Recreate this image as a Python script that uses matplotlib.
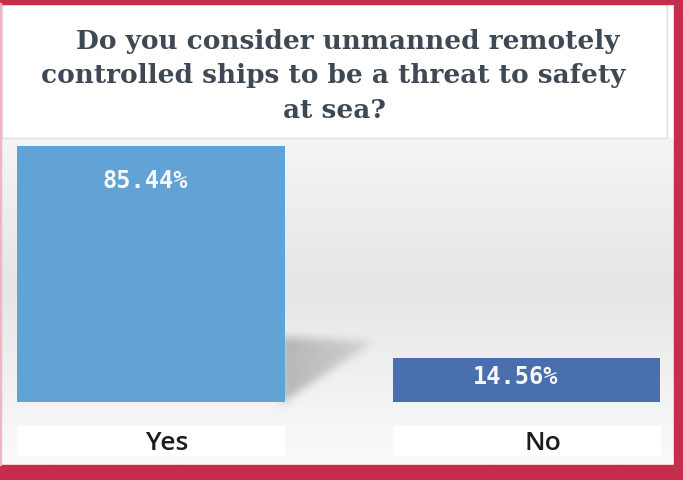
import numpy as np
import matplotlib
matplotlib.use("Agg")
import matplotlib.pyplot as plt
from matplotlib.patches import Rectangle
from matplotlib.colors import LinearSegmentedColormap

# ---- data ----
categories = ["Yes", "No"]
values = [85.44, 14.56]
value_labels = ["85.44%", "14.56%"]
title_lines = ["Do you consider unmanned remotely",
               "controlled ships to be a threat to safety",
               "at sea?"]
bar_colors = ["#62a3d6", "#4a6fae"]

W, H = 683, 481
fig = plt.figure(figsize=(W / 100, H / 100), dpi=100)
fig.patch.set_facecolor("white")

# ---- decoration overlay in pixel coordinates ----
deco = fig.add_axes([0, 0, 1, 1])
deco.set_xlim(0, W)
deco.set_ylim(H, 0)
deco.axis("off")

grad_cmap = LinearSegmentedColormap.from_list(
    "bg", [(0.0, "#f4f5f6"), (0.45, "#e5e6e8"), (0.80, "#f3f3f3"), (1.0, "#fbfbfb")])
g = np.linspace(0, 1, 256).reshape(-1, 1)
deco.imshow(g, cmap=grad_cmap, extent=[2, 674, 466, 139], aspect="auto", zorder=0)

deco.add_patch(Rectangle((2, 5), 665, 134, facecolor="white", edgecolor="#ecd9dd",
                         linewidth=1.0, zorder=1))
crimson = "#c42d4b"
deco.add_patch(Rectangle((0, 0), W, 4.5, color=crimson, zorder=5))
deco.add_patch(Rectangle((674, 0), 9, H, color=crimson, zorder=5))
deco.add_patch(Rectangle((0, 466), W, 15, color=crimson, zorder=5))
deco.add_patch(Rectangle((0, 4), 1.2, 462, color="#e8b9c3", zorder=5))

for x0 in (17, 393):
    deco.add_patch(Rectangle((x0, 427), 268, 30, facecolor="white", edgecolor="none", zorder=1))

title_y = [41, 76, 111]
title_x = [348, 333, 334]
for t, x, y in zip(title_lines, title_x, title_y):
    deco.text(x, y, t, ha="center", va="center", fontsize=19, fontweight="bold",
              family="DejaVu Serif", color="#3f4855", zorder=6)

# ---- bar axes ----
ax_left, ax_right, ax_top, ax_bottom = 2, 673, 140, 403
ax = fig.add_axes([ax_left / W, (H - ax_bottom) / H,
                   (ax_right - ax_left) / W, (ax_bottom - ax_top) / H])
ax.patch.set_alpha(0)
px_per_unit = 375.5
x0 = -(151 - ax_left) / px_per_unit
ax.set_xlim(x0, x0 + (ax_right - ax_left) / px_per_unit)
ax.set_ylim(0, (ax_bottom - ax_top) / 3.0)
for s in ax.spines.values():
    s.set_visible(False)
ax.set_xticks([])
ax.set_yticks([])

xpos = np.arange(len(categories))
bw = 0.713
bars = ax.bar(xpos, values, width=bw, color=bar_colors, zorder=2)

# ---- blurred shadow image, geometry derived from the first bar ----
fig.canvas.draw()
def to_px(x, y):
    dx, dy = ax.transData.transform((x, y))
    return dx, H - dy

bx_r = bars[0].get_x() + bars[0].get_width()
px_r, py_base = to_px(bx_r, 0)
_, py_top = to_px(bx_r, values[0])
bar_h = py_base - py_top
tri = np.array([[px_r - 4, py_base - 0.255 * bar_h],
                [px_r + 0.33 * bars[0].get_width() * px_per_unit, py_base - 0.235 * bar_h],
                [px_r - 4, py_base + 2]])
sx0, sx1 = int(px_r - 20), int(tri[1, 0] + 25)
sy0, sy1 = int(tri[0, 1] - 25), int(py_base + 20)
xs = np.arange(sx0, sx1) + 0.5
ys = np.arange(sy0, sy1) + 0.5
XX, YY = np.meshgrid(xs, ys)
def side(p, a, b):
    return (b[0] - a[0]) * (p[1] - a[1]) - (b[1] - a[1]) * (p[0] - a[0])
P = (XX, YY)
d1 = side(P, tri[0], tri[1]); d2 = side(P, tri[1], tri[2]); d3 = side(P, tri[2], tri[0])
inside = ((d1 >= 0) & (d2 >= 0) & (d3 >= 0)) | ((d1 <= 0) & (d2 <= 0) & (d3 <= 0))
fade = np.clip(1 - (XX - px_r) / (tri[1, 0] - px_r) * 0.5, 0, 1)
alpha = inside * fade * 0.45
def blur(a, r):
    k = np.ones(2 * r + 1) / (2 * r + 1)
    a = np.apply_along_axis(lambda m: np.convolve(m, k, mode="same"), 0, a)
    a = np.apply_along_axis(lambda m: np.convolve(m, k, mode="same"), 1, a)
    return a
alpha = blur(blur(blur(alpha, 4), 4), 3)
rgba = np.zeros(alpha.shape + (4,))
rgba[..., :3] = 0.45
rgba[..., 3] = alpha
deco.imshow(rgba, extent=[sx0, sx1, sy1, sy0], aspect="auto", zorder=1.5,
            interpolation="bilinear")

# value labels
for b, lab, (dx, dy) in zip(bars, value_labels, [(-6, -34), (-11, -18)]):
    ax.annotate(lab, (b.get_x() + b.get_width() / 2, b.get_height()),
                xytext=(dx * 0.72, dy * 0.72), textcoords="offset points",
                ha="center", va="center", color="#f8f8f8", fontsize=17,
                family="DejaVu Sans Mono", fontweight="bold", zorder=3)

# category labels
for xp, c in zip(xpos, categories):
    ax.annotate(c, (xp, 0), xytext=(16 * 0.72, -41 * 0.72), textcoords="offset points",
                ha="center", va="center", fontsize=19, family="Open Sans",
                fontweight="semibold", color="#1c1c1c", annotation_clip=False, zorder=3)

fig.savefig("out.png", dpi=100, facecolor="white")
